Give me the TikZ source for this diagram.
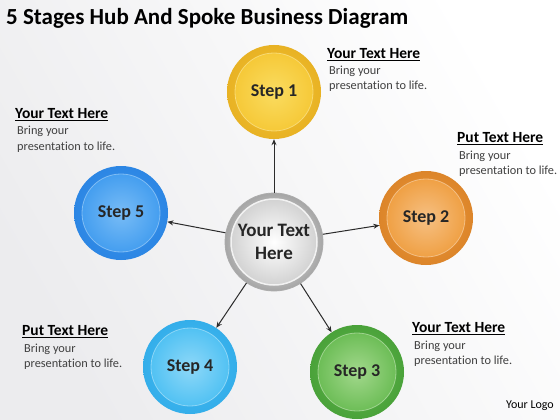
\documentclass[tikz,border=0pt]{standalone}
\usepackage{fontspec}
\setmainfont{Carlito}[Ligatures=NoCommon]
\usetikzlibrary{arrows.meta}
\definecolor{arr}{HTML}{2B2B2B}
\definecolor{yb}{HTML}{F5C530}\definecolor{yl}{HTML}{FADC60}\definecolor{yd}{HTML}{E8B224}
\definecolor{ob}{HTML}{EE9A38}\definecolor{ol}{HTML}{F6C083}\definecolor{od}{HTML}{DC852A}
\definecolor{gb}{HTML}{62B84C}\definecolor{gl}{HTML}{A2D88C}\definecolor{gd}{HTML}{4AA23A}
\definecolor{lb}{HTML}{45BDF2}\definecolor{ll}{HTML}{8ED8F8}\definecolor{ld}{HTML}{34AEEA}
\definecolor{bb}{HTML}{3A98EE}\definecolor{bl}{HTML}{78BCF6}\definecolor{bd}{HTML}{2C86E4}
\tikzset{
  stepball/.style n args={3}{circle,minimum size=94pt,inner sep=0pt,
     inner color=#2,outer color=#3,
     path picture={
       \shade[inner color=#1,outer color=#2] (path picture bounding box.center) circle (39pt);
       \draw[#1!60!white,line width=0.8pt,opacity=0.6] (path picture bounding box.center) circle (39pt);
     },
     font=\bfseries\fontsize{18}{20}\selectfont,text=black!85},
  head/.style={anchor=west,font=\bfseries\fontsize{15.5}{17}\selectfont,inner sep=0pt},
  body/.style={anchor=west,font=\fontsize{12.3}{14}\selectfont,text=black!75,inner sep=0pt},
  spoke/.style={draw=arr,line width=1pt,-{Stealth[length=6pt,width=5pt]}}
}
\newcommand{\uline}[1]{\underline{#1}}
\begin{document}
\begin{tikzpicture}[x=1pt,y=-1pt]
\shade[left color=white,right color=blue!6!gray!14,shading angle=-60] (0,0) rectangle (560,420);
\useasboundingbox (0,0) rectangle (560,420);
\node[anchor=west,inner sep=0pt,font=\bfseries\fontsize{23}{25}\selectfont] (title) at (6,18) {5 Stages Hub And Spoke Business Diagram};
% steps
\node[stepball={yl}{yb}{yd}] (s1) at (274,92) {Step 1};
\node[stepball={ol}{ob}{od}] (s2) at (426,218) {Step 2};
\node[stepball={gl}{gb}{gd}] (s3) at (357,372) {Step 3};
\node[stepball={ll}{lb}{ld}] (s4) at (190,367) {Step 4};
\node[stepball={bl}{bb}{bd}] (s5) at (121,213) {Step 5};
% hub
\node[circle,minimum size=98pt,inner sep=0pt,inner color=white,outer color=gray!70,
  draw=gray!65,line width=0.8pt,
  path picture={
    \shade[inner color=white,outer color=gray!40] (path picture bounding box.center) circle (43pt);
    \draw[white!90!gray,line width=1.5pt] (path picture bounding box.center) circle (43pt);
  },
  align=center,font=\bfseries\fontsize{19}{23}\selectfont,text=black!85] (hub) at (274,242) {Your Text\\Here};
% spokes
\draw[spoke] (hub) -- (s1);
\draw[spoke] (hub) -- (s2);
\draw[spoke] (hub) -- (s3);
\draw[spoke] (hub) -- (s4);
\draw[spoke] (hub) -- (s5);
% texts
\node[head] (h1) at (327,55) {\uline{Your Text Here}};
\node[body] (b1a) at (329,71) {Bring your};
\node[body] (b1b) at (329,86) {presentation to life.};
\node[head] (h2) at (457,139) {\uline{Put Text Here}};
\node[body] (b2a) at (459,156) {Bring your};
\node[body] (b2b) at (459,171) {presentation to life.};
\node[head] (h3) at (412,329) {\uline{Your Text Here}};
\node[body] (b3a) at (414,346) {Bring your};
\node[body] (b3b) at (414,361) {presentation to life.};
\node[head] (h4) at (22,332) {\uline{Put Text Here}};
\node[body] (b4a) at (24,349) {Bring your};
\node[body] (b4b) at (24,364) {presentation to life.};
\node[head] (h5) at (15,115) {\uline{Your Text Here}};
\node[body] (b5a) at (17,131) {Bring your};
\node[body] (b5b) at (17,147) {presentation to life.};
\node[anchor=east,inner sep=0pt,font=\fontsize{12}{14}\selectfont] (logo) at (554,406) {Your Logo};
\end{tikzpicture}
\end{document}
